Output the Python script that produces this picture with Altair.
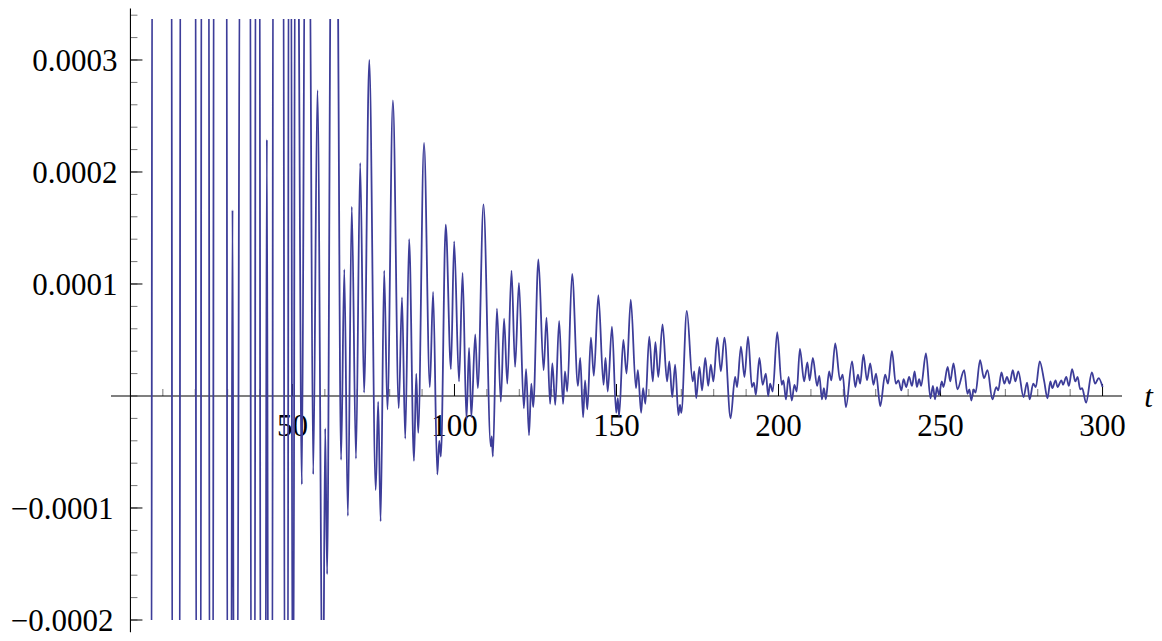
import altair as alt
import pandas as pd

# values in units of 1e-5 ; TOP / BOT mark excursions beyond the plotted range
TOP = 45.0
BOT = -30.0

EARLY = [
    (1.0, BOT), (6.5, BOT), (6.7, TOP), (12.7, TOP), (12.9, BOT), (15.2, BOT), (15.4, TOP),
    (20.1, TOP), (20.3, BOT), (21.7, BOT), (21.9, TOP), (24.2, TOP), (24.4, BOT),
    (25.5, BOT), (25.7, TOP), (29.7, TOP), (29.9, BOT), (31.1, BOT), (31.5, 16.6), (31.9, BOT),
    (33.0, BOT), (33.8, TOP), (37.0, TOP), (37.2, BOT), (38.4, BOT), (38.6, TOP),
    (39.9, TOP), (40.1, BOT), (41.7, BOT), (42.1, 22.9), (42.5, BOT), (43.8, BOT), (44.0, TOP),
    (47.2, TOP), (47.6, BOT), (48.6, BOT), (48.8, TOP), (49.6, TOP), (50.0, BOT),
    (50.3, BOT), (50.8, TOP), (51.6, TOP), (52.9, -7.9), (53.9, TOP), (55.2, TOP),
    (56.4, -7.0), (57.7, 27.3), (59.4, BOT), (60.1, -2.9), (60.7, -15.9), (62.0, TOP),
    (63.7, TOP), (65.0, -5.7),
]

MIDDLE = [
    (66.0, 11.3), (67.1, -10.7), (68.3, 16.9), (69.6, -5.6), (70.9, 20.8), (72.1, 0.3),
    (73.7, 30.0), (75.7, -8.4), (76.45, -0.5), (77.2, -11.2), (78.3, 11.2), (79.3, -1.2),
    (81.0, 26.4), (82.8, -1.1), (83.8, 8.8), (84.8, -3.8), (86.0, 14.0), (87.5, -5.8),
    (88.2, 2.0), (88.8, -3.3), (90.6, 22.6), (92.4, 0.8), (93.4, 9.3), (94.7, -7.0),
    (95.3, -4.0), (95.8, -5.4), (97.3, 15.3), (98.9, 2.4), (99.9, 13.8), (101.4, 1.3),
    (102.5, 11.0), (103.7, -2.1), (104.5, 4.3), (105.2, -1.9), (106.4, 5.5), (107.2, 0.7),
    (108.95, 17.1), (111.2, -4.5), (111.5, -3.6), (111.85, -5.4), (113.1, 7.8), (114.3, -0.5),
    (115.3, 6.9), (116.3, 1.1), (117.6, 11.2), (118.7, 2.6), (119.9, 10.1), (121.4, -1.1),
    (122.1, 2.4), (123.0, -3.5), (123.7, 1.1), (124.3, -1.0), (125.9, 12.2), (127.5, 2.3),
    (128.4, 7.0), (129.5, -0.7), (130.2, 2.9), (131.1, -0.8), (132.3, 6.7), (133.5, -0.7),
    (134.1, 2.2), (134.8, 0.4), (136.3, 10.9), (138.1, 0.9), (138.8, 3.4), (139.7, -1.9),
    (140.3, 1.4), (141.0, -1.2), (142.1, 5.2), (143.0, 1.8), (144.4, 9.0), (146.0, 1.0),
    (146.6, 3.4), (147.3, 0.4), (148.6, 6.2), (149.9, -1.5), (150.4, -0.2), (150.8, -1.8),
    (152.1, 5.0), (153.1, 2.0), (154.4, 8.6), (156.0, 0.7), (156.6, 2.3), (157.6, -1.5),
    (158.2, 0.7), (158.9, -0.7), (160.1, 5.3), (161.2, 1.3), (162.0, 4.8), (162.9, 1.7),
    (164.2, 6.4), (165.6, 1.3), (166.3, 3.1), (167.2, -0.1), (168.1, 2.8), (169.1, -1.7),
    (169.6, -0.8), (170.0, -1.5), (171.7, 7.6), (173.5, 1.3), (174.0, 2.2), (174.6, -0.2),
    (175.6, 2.6), (176.4, 0.5), (177.4, 3.4), (178.3, 0.9), (179.1, 2.8), (179.9, 1.3),
    (181.1, 5.2), (182.2, 2.2), (183.3, 5.2), (185.2, -2.0), (186.6, 1.7), (187.2, 0.8),
    (188.4, 4.4), (189.5, 1.7), (190.6, 5.3), (191.8, 0.8), (192.4, 1.2), (193.0, 0.1),
    (194.1, 3.4), (195.1, 1.0), (196.1, 2.0), (196.8, 0.0), (197.4, 1.1), (198.2, 0.4),
]

LATE = [
    (199.6, 5.7), (201.0, 1.0), (201.5, 1.4), (202.3, -0.3), (203.1, 1.7), (204.1, -0.4),
    (204.9, 1.0), (205.6, 0.4), (206.6, 4.2), (207.9, 1.3), (208.9, 3.0), (209.6, 1.4),
    (210.6, 3.4), (211.9, 0.9), (212.6, 1.8), (213.4, -0.3), (214.0, 0.7), (214.6, -0.3),
    (215.6, 2.2), (216.3, 1.4), (217.5, 4.7), (219.0, 1.4), (219.8, 1.9), (220.8, -1.0),
    (222.7, 3.1), (223.7, 0.8), (224.5, 1.9), (225.2, 1.1), (226.2, 3.7), (227.3, 1.4),
    (228.3, 2.9), (229.3, 1.0), (230.1, 2.0), (231.4, -0.9), (232.9, 1.9), (233.8, 1.1),
    (235.0, 4.0), (236.2, 1.1), (237.0, 1.4), (237.9, 0.5), (238.6, 1.5), (239.4, 0.8),
    (240.3, 1.7), (241.2, 0.9), (242.0, 2.2), (242.7, 0.8), (243.4, 1.5), (244.0, 0.9),
    (245.5, 3.8), (246.9, -0.2), (247.65, 0.9), (248.3, -0.3), (248.9, 0.8), (249.5, 0.1),
    (250.4, 1.3), (250.9, 0.8), (252.2, 2.6), (253.0, 1.3), (254.0, 2.9), (255.2, 0.6),
    (257.3, 2.3), (258.3, 0.2), (258.9, 0.6), (259.5, -0.4), (260.2, 0.6), (260.8, 0.3),
    (262.2, 3.2), (263.4, 1.6), (264.5, 2.3), (266.0, -0.3), (267.2, 0.8), (267.8, 0.5),
    (268.8, 2.1), (269.7, 1.1), (270.5, 1.7), (271.3, 1.1), (272.3, 2.3), (273.1, 1.3),
    (274.0, 2.2), (275.6, -0.1), (276.7, 1.2), (277.5, -0.3), (278.6, 1.1), (279.4, 0.8),
    (280.6, 3.1), (282.0, 1.3), (283.0, -0.2), (283.9, 1.3), (284.5, 0.7), (285.5, 1.4),
    (286.1, 0.8), (287.3, 1.4), (287.8, 1.0), (288.8, 1.7), (289.6, 0.9), (290.6, 2.4),
    (291.6, 1.3), (292.3, 1.7), (293.1, 0.6), (293.7, 0.7), (294.9, -0.6), (296.7, 2.1),
    (297.7, 1.1), (298.8, 1.6), (300.0, 0.8),
]

X_MAJOR = [50, 100, 150, 200, 250, 300]
X_MINOR = [v for v in range(10, 300, 10) if v % 50 != 0]
Y_MAJOR = [-0.0002, -0.0001, 0.0001, 0.0002, 0.0003]
Y_MINOR = [round(-0.0002 + 0.00002 * i, 6) for i in range(28)]
Y_POS_LABELS = ["0.0003", "0.0002", "0.0001"]
Y_POS_VALUES = [0.0003, 0.0002, 0.0001]
Y_NEG_LABELS = ["\u22120.0001", "\u22120.0002"]
Y_NEG_VALUES = [-0.0001, -0.0002]

pts = EARLY + MIDDLE + LATE
curve = pd.DataFrame({"t": [p[0] for p in pts], "y": [p[1] * 1e-5 for p in pts]})

xs = alt.Scale(domain=[-6, 306], nice=False, zero=False)
ys = alt.Scale(domain=[-0.0002, 0.0003366], nice=False, zero=False)
FONT = "Liberation Serif, Times New Roman, Times, DejaVu Serif, serif"

def X(f):
    return alt.X(f, type="quantitative", scale=xs, axis=None)

def Y(f):
    return alt.Y(f, type="quantitative", scale=ys, axis=None)

x0 = alt.XDatum(0, scale=xs, axis=None)
y0 = alt.YDatum(0, scale=ys, axis=None)

xaxis = alt.Chart(pd.DataFrame({"a": [-6], "b": [306]})).mark_rule(
    color="black", strokeWidth=1.1).encode(x=X("a"), x2="b", y=y0)
yaxis = alt.Chart(pd.DataFrame({"a": [-0.000211], "b": [0.000346]})).mark_rule(
    color="black", strokeWidth=1.1).encode(y=Y("a"), y2="b", x=x0)

xt_major = alt.Chart(pd.DataFrame({"v": X_MAJOR})).mark_rule(
    color="black", strokeWidth=1, y2Offset=-12).encode(x=X("v"), y=y0, y2=alt.Y2Datum(0))
xt_minor = alt.Chart(pd.DataFrame({"v": X_MINOR})).mark_rule(
    color="#777777", strokeWidth=1, y2Offset=-7).encode(x=X("v"), y=y0, y2=alt.Y2Datum(0))
yt_major = alt.Chart(pd.DataFrame({"v": Y_MAJOR})).mark_rule(
    color="black", strokeWidth=1, x2Offset=12).encode(y=Y("v"), x=x0, x2=alt.X2Datum(0))
yt_minor = alt.Chart(pd.DataFrame({"v": Y_MINOR})).mark_rule(
    color="#777777", strokeWidth=1, x2Offset=7).encode(y=Y("v"), x=x0, x2=alt.X2Datum(0))

xlab = alt.Chart(pd.DataFrame({"v": X_MAJOR, "s": [str(v) for v in X_MAJOR]})).mark_text(
    font=FONT, fontSize=31, color="black", align="center", baseline="alphabetic", dy=40
).encode(x=X("v"), y=y0, text="s:N")
ylab_pos = alt.Chart(pd.DataFrame({"v": Y_POS_VALUES, "s": Y_POS_LABELS})).mark_text(
    font=FONT, fontSize=31, color="black", align="right", baseline="alphabetic", dx=-13, dy=11
).encode(y=Y("v"), x=x0, text="s:N")
ylab_neg = alt.Chart(pd.DataFrame({"v": Y_NEG_VALUES, "s": Y_NEG_LABELS})).mark_text(
    font=FONT, fontSize=31, color="black", align="right", baseline="alphabetic", dx=-17, dy=11
).encode(y=Y("v"), x=x0, text="s:N")
tlab = alt.Chart(pd.DataFrame({"v": [312.9], "s": ["t"]})).mark_text(
    font=FONT, fontSize=31, fontStyle="italic", color="black", align="left",
    baseline="alphabetic", dy=11
).encode(x=X("v"), y=y0, text="s:N")

line = alt.Chart(curve).mark_line(
    clip=True, interpolate="monotone", color="#3d3d99", strokeWidth=1.8
).encode(x=X("t"), y=Y("y"))

chart = alt.layer(
    xt_minor, xt_major, yt_minor, yt_major, xaxis, yaxis, xlab, ylab_pos, ylab_neg, tlab, line
).properties(
    width=1011, height=601,
    autosize=alt.AutoSizeParams(type="none"),
    padding={"left": 103, "top": 11, "right": 32, "bottom": 19},
).configure_view(stroke=None)

chart.save("out.html", embed_options={"renderer": "svg", "actions": False})
